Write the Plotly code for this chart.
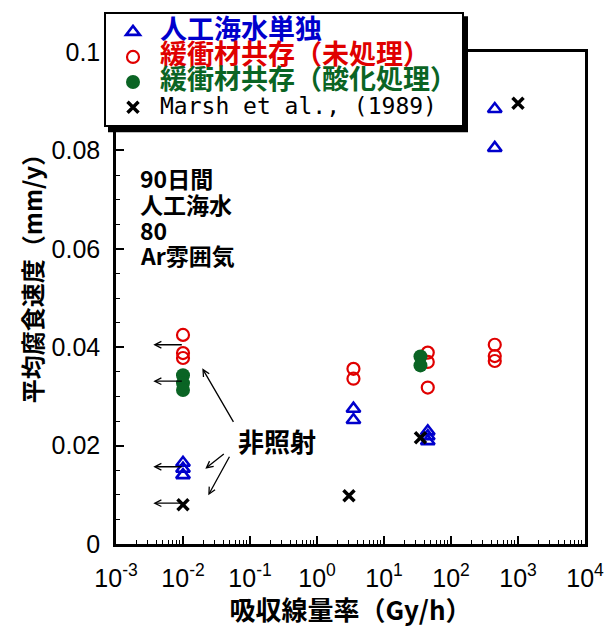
import plotly.graph_objects as go

# ---- data -------------------------------------------------------------
# 人工海水単独
sea_x = [0.01, 0.01, 0.01, 3.5, 3.5, 45, 45, 45, 450, 450]
sea_y = [0.0165, 0.0153, 0.0140, 0.0275, 0.0252, 0.0229, 0.0219, 0.0209, 0.0884, 0.0805]
# 緩衝材共存（未処理）
raw_x = [0.01, 0.01, 0.01, 3.5, 3.5, 45, 45, 45, 450, 450, 450]
raw_y = [0.0425, 0.0388, 0.0378, 0.0356, 0.0336, 0.0389, 0.0370, 0.0318, 0.0405, 0.0382, 0.0372]
# 緩衝材共存（酸化処理）
oxi_x = [0.01, 0.01, 0.01, 35, 35]
oxi_y = [0.0343, 0.0327, 0.0313, 0.0381, 0.0363]
# Marsh et al., (1989)
marsh_x = [0.01, 3, 35, 1000]
marsh_y = [0.0080, 0.0098, 0.0216, 0.0896]

x_tickvals = [1e-3, 1e-2, 1e-1, 1e0, 1e1, 1e2, 1e3, 1e4]
x_ticktext = ["10<sup>-3</sup>", "10<sup>-2</sup>", "10<sup>-1</sup>", "10<sup>0</sup>",
              "10<sup>1</sup>", "10<sup>2</sup>", "10<sup>3</sup>", "10<sup>4</sup>"]
y_tickvals = [0, 0.02, 0.04, 0.06, 0.08, 0.1]
y_ticktext = ["0", "0.02", "0.04", "0.06", "0.08", "0.1"]

condition_lines = ["90日間", "人工海水", "80", "Ar雰囲気"]

# ---- page geometry (pixels) -----------------------------------------
W, H = 615, 627
L, R, T, B = 116, 30, 48, 83
PW, PH = W - L - R, H - T - B


def px_x(p):
    return (p - L) / PW


def px_y(p):
    return (H - B - p) / PH


JP = "Noto Sans CJK JP"
BLUE, RED, GREEN, BLACK = "#0000cc", "#e00000", "#0a6424", "#000000"


def legend_name(text, color, size=27):
    return f'<span style="font-size:{size}px;color:{color}"><b>{text}</b></span>'


fig = go.Figure()
fig.add_trace(go.Scatter(
    x=sea_x, y=sea_y, mode="markers",
    name=legend_name("人工海水単独", BLUE),
    marker=dict(symbol="triangle-up-open", size=12, color=BLUE, line=dict(width=2.6, color=BLUE)),
))
fig.add_trace(go.Scatter(
    x=raw_x, y=raw_y, mode="markers",
    name=legend_name("緩衝材共存（未処理）", RED),
    marker=dict(symbol="circle-open", size=12, color=RED, line=dict(width=2.2, color=RED)),
))
fig.add_trace(go.Scatter(
    x=oxi_x, y=oxi_y, mode="markers",
    name=legend_name("緩衝材共存（酸化処理）", GREEN),
    marker=dict(symbol="circle", size=14, color=GREEN, line=dict(width=0)),
))
fig.add_trace(go.Scatter(
    x=marsh_x, y=marsh_y, mode="markers",
    name='<span style="font-size:23px;font-family:DejaVu Sans Mono;color:#000">Marsh et al., (1989)</span>',
    marker=dict(symbol="x-thin-open", size=11, color=BLACK, line=dict(width=3.5, color=BLACK)),
))

annotations = []
# condition notes
for i, line in enumerate(condition_lines):
    annotations.append(dict(
        x=px_x(138), y=px_y(175 + 26 * i), xref="paper", yref="paper",
        xanchor="left", yanchor="middle", showarrow=False,
        text=f"<b>{line}</b>", font=dict(family=JP, size=23, color="black"),
    ))
# 非照射 label
annotations.append(dict(
    x=px_x(277), y=px_y(440), xref="paper", yref="paper",
    xanchor="center", yanchor="middle", showarrow=False,
    text="<b>非照射</b>", font=dict(family=JP, size=26, color="black"),
))
# arrows from the label to the unirradiated groups
for hx, hy, ax, ay in [(-1.712, 0.0357, 32, 55), (-1.667, 0.0153, 20, -16), (-1.623, 0.0099, 22, -40)]:
    annotations.append(dict(
        x=hx, y=hy, xref="x", yref="y", ax=ax, ay=ay, text="",
        showarrow=True, arrowhead=5, arrowsize=1, arrowwidth=1.3, arrowcolor="black",
    ))
# short arrows pointing to the unirradiated (left) side
for hy in [0.0405, 0.0331, 0.0157, 0.0083]:
    annotations.append(dict(
        x=-2.443, y=hy, xref="x", yref="y", ax=30, ay=0, text="",
        showarrow=True, arrowhead=5, arrowsize=1, arrowwidth=1.3, arrowcolor="black",
    ))
# y axis title
annotations.append(dict(
    x=px_x(31), y=px_y(271), xref="paper", yref="paper",
    xanchor="center", yanchor="middle", showarrow=False, textangle=-90,
    text="<b>平均腐食速度（mm/y）</b>", font=dict(family=JP, size=24, color="black"),
))

# legend drop shadow
shapes = [dict(
    type="rect", xref="paper", yref="paper", layer="above",
    x0=px_x(108), x1=px_x(468), y0=px_y(129), y1=px_y(12),
    fillcolor="black", line=dict(width=0),
)]

fig.update_layout(
    width=W, height=H, autosize=False,
    margin=dict(l=L, r=R, t=T, b=B, pad=0),
    paper_bgcolor="white", plot_bgcolor="white",
    showlegend=True,
    legend=dict(
        x=px_x(104), y=px_y(8), xanchor="left", yanchor="top",
        bgcolor="white", bordercolor="black", borderwidth=2,
        font=dict(family=JP, size=17, color="black"),
        tracegroupgap=0, itemwidth=44,
    ),
    annotations=annotations,
    shapes=shapes,
    xaxis=dict(
        type="log", range=[-3, 4],
        tickvals=x_tickvals, ticktext=x_ticktext,
        ticks="inside", ticklen=8, tickwidth=1.5, tickcolor="black",
        minor=dict(ticks="inside", ticklen=4, tickwidth=1, tickcolor="black", dtick="D1"),
        showline=True, linewidth=2.5, linecolor="black", mirror=True,
        showgrid=False, zeroline=False,
        tickfont=dict(family="Liberation Sans", size=25, color="black"),
        ticklabelstandoff=10,
        title=dict(text="<b>吸収線量率（Gy/h）</b>", font=dict(family=JP, size=26, color="black"), standoff=6),
    ),
    yaxis=dict(
        range=[0, 0.1],
        tickvals=y_tickvals, ticktext=y_ticktext,
        ticks="inside", ticklen=8, tickwidth=1.5, tickcolor="black",
        minor=dict(ticks="inside", ticklen=4, tickwidth=1, tickcolor="black", dtick=0.005),
        showline=True, linewidth=2.5, linecolor="black", mirror=True,
        showgrid=False, zeroline=False,
        tickfont=dict(family="Liberation Sans", size=25, color="black"),
        ticklabelstandoff=8,
    ),
)

fig.write_html("out.html")
